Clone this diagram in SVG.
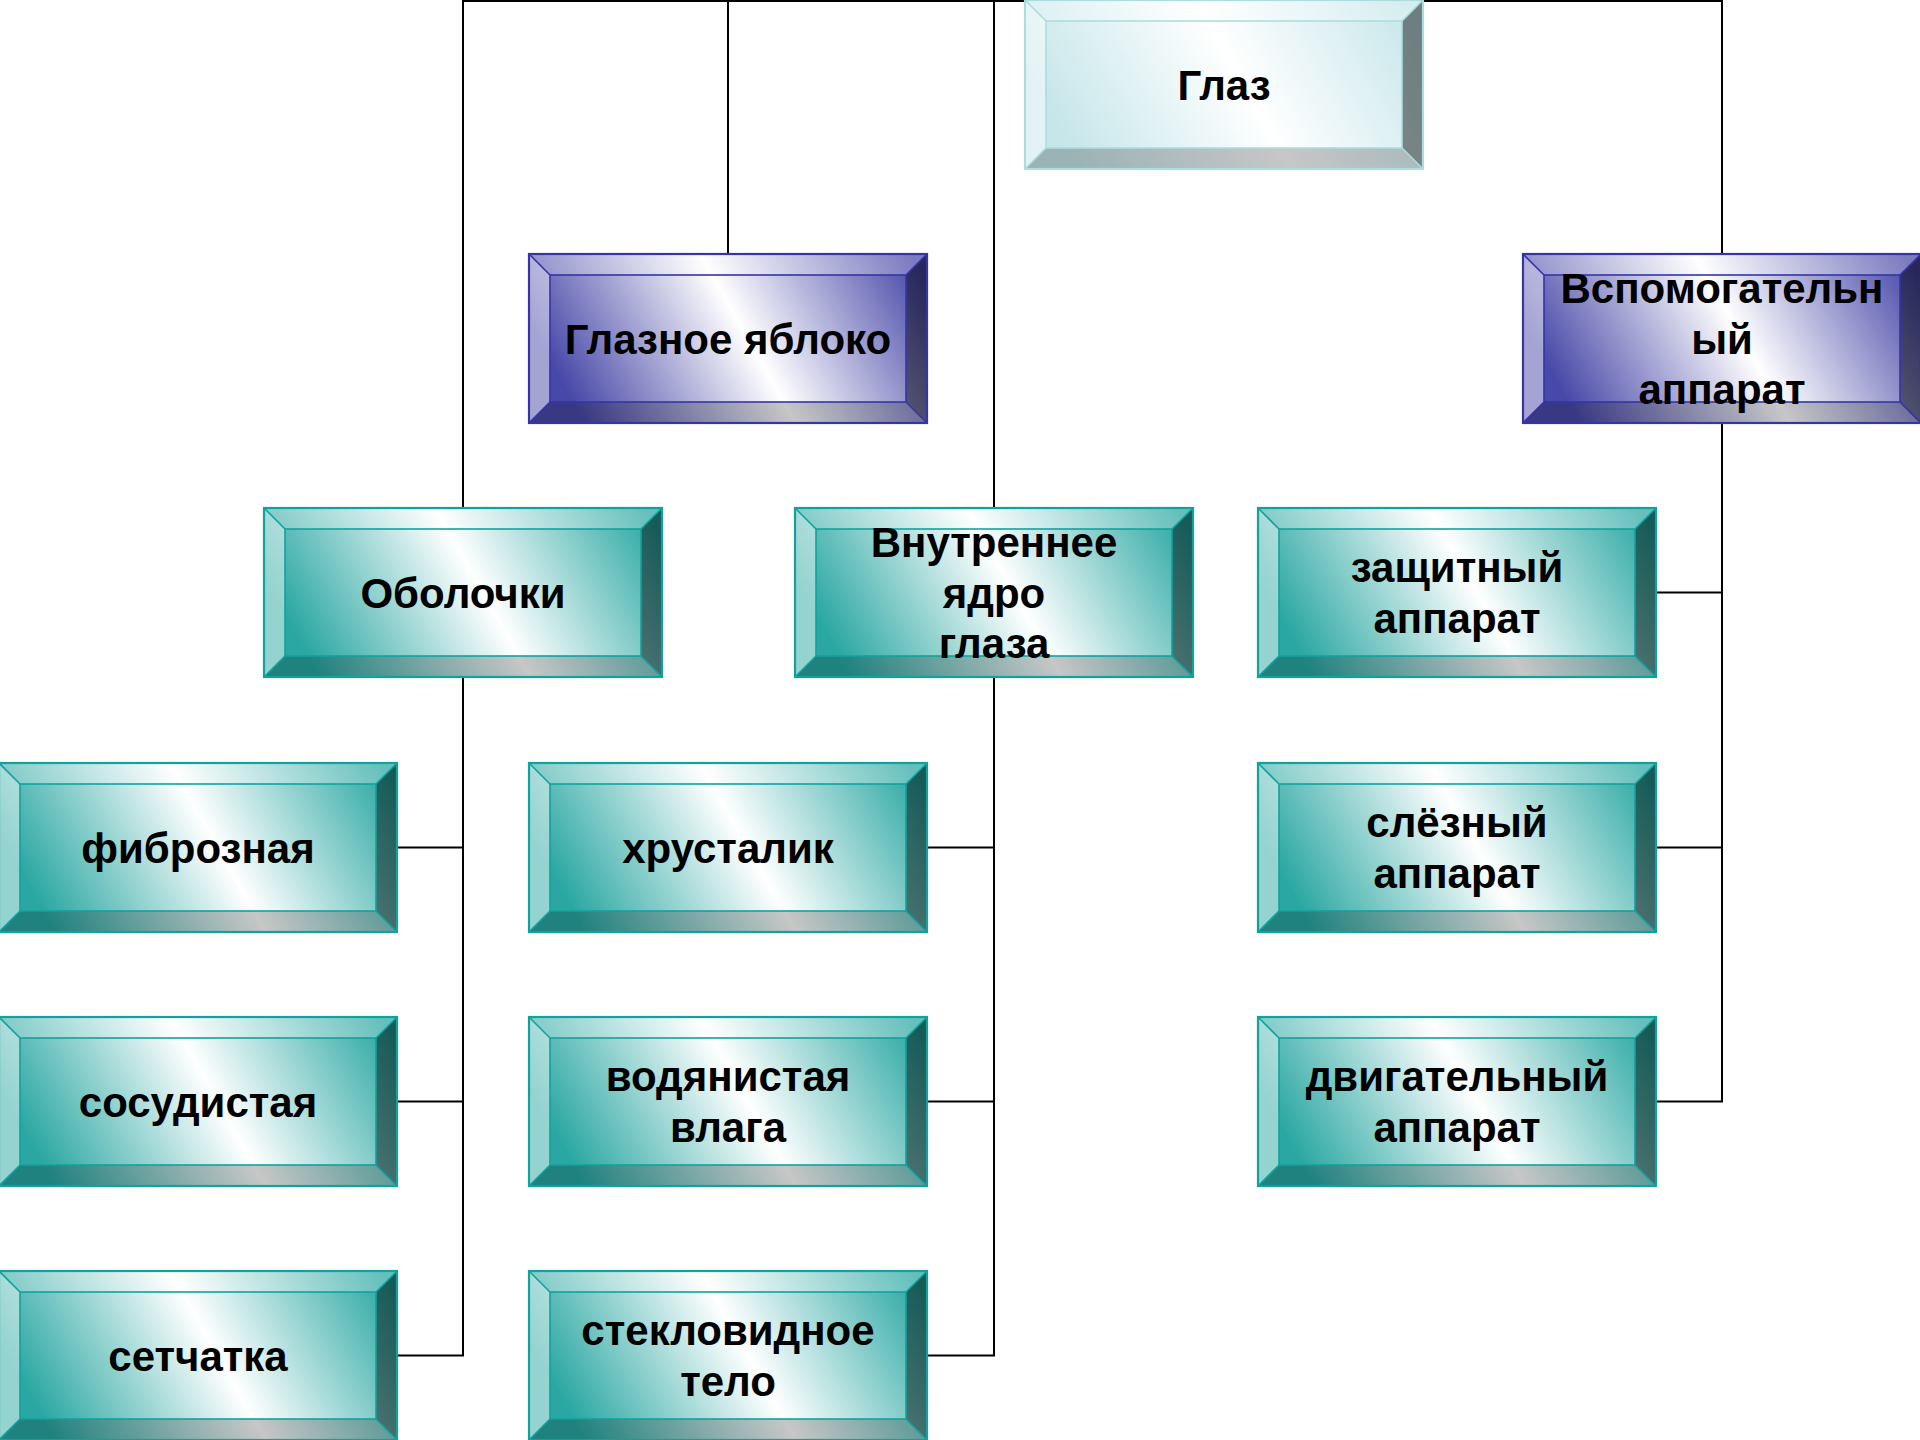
<svg xmlns="http://www.w3.org/2000/svg" xmlns:xlink="http://www.w3.org/1999/xlink" width="1920" height="1440" viewBox="0 0 1920 1440">
<style>
.t{font-family:"Liberation Sans",Arial,sans-serif;font-weight:bold;font-size:42px;fill:#000;text-anchor:middle}
.c{fill:none;stroke:#000;stroke-width:2}
.fT{fill:#fff;fill-opacity:0.28}
.fL{fill:#fff;fill-opacity:0.5}
.fR{fill:#000;fill-opacity:0.45}
.fB{fill:#000;fill-opacity:0.22}
</style>
<defs>
<linearGradient id="gTeal" x1="0.05" y1="0.62" x2="1.05" y2="0.38">
<stop offset="0" stop-color="#2AA7A2"/><stop offset="0.5" stop-color="#FFFFFF"/><stop offset="1" stop-color="#2AA7A2"/>
</linearGradient>
<linearGradient id="gPurp" x1="0.05" y1="0.62" x2="1.05" y2="0.38">
<stop offset="0" stop-color="#4848A8"/><stop offset="0.5" stop-color="#FFFFFF"/><stop offset="1" stop-color="#4848A8"/>
</linearGradient>
<linearGradient id="gLight" x1="0.05" y1="0.62" x2="1.05" y2="0.38">
<stop offset="0" stop-color="#C6E6EA"/><stop offset="0.5" stop-color="#FFFFFF"/><stop offset="1" stop-color="#C6E6EA"/>
</linearGradient>
<g id="facets">
<polygon class="fT" points="0,0 398,0 377,21 21,21"/>
<polygon class="fL" points="0,0 21,21 21,148 0,169"/>
<polygon class="fR" points="398,0 398,169 377,148 377,21"/>
<polygon class="fB" points="0,169 21,148 377,148 398,169"/>
</g>
<g id="lines">
<rect x="21" y="21" width="356" height="127" fill="none"/>
<path d="M0,0 L21,21 M398,0 L377,21 M0,169 L21,148 M398,169 L377,148" fill="none"/>
<rect x="0" y="0" width="398" height="169" fill="none" stroke-width="2.2"/>
</g>
<g id="boxT">
<rect x="0" y="0" width="398" height="169" fill="url(#gTeal)"/>
<use xlink:href="#facets"/>
<use xlink:href="#lines" stroke="#12A29D" stroke-width="1.6"/>
</g>
<g id="boxP">
<rect x="0" y="0" width="398" height="169" fill="url(#gPurp)"/>
<use xlink:href="#facets"/>
<use xlink:href="#lines" stroke="#3535A5" stroke-width="1.6"/>
</g>
<g id="boxL">
<rect x="0" y="0" width="398" height="169" fill="url(#gLight)"/>
<use xlink:href="#facets"/>
<use xlink:href="#lines" stroke="#ADDCDF" stroke-width="1.6"/>
</g>
</defs>

<g id="connectors">
<path class="c" d="M463,508 V1 H1722 V254"/>
<path class="c" d="M728,1 V254"/>
<path class="c" d="M994,1 V508"/>
<path class="c" d="M463,677 V1355.5 H397 M397,847.5 H463 M397,1101.5 H463"/>
<path class="c" d="M994,677 V1355.5 H927 M927,847.5 H994 M927,1101.5 H994"/>
<path class="c" d="M1722,423 V1101.5 H1655 M1655,592.5 H1722 M1655,847.5 H1722"/>
</g>

<g id="node-glaz">
<use xlink:href="#boxL" x="1025" y="0"/>
<text class="t" x="1224" y="99.5">Глаз</text>
</g>
<g id="node-glaznoe-yabloko">
<use xlink:href="#boxP" x="529" y="254"/>
<text class="t" x="728" y="353.5">Глазное яблоко</text>
</g>
<g id="node-vspomogatelny">
<use xlink:href="#boxP" x="1523" y="254"/>
<text class="t" x="1722" y="303">Вспомогательн</text>
<text class="t" x="1722" y="353.5">ый</text>
<text class="t" x="1722" y="404">аппарат</text>
</g>
<g id="node-obolochki">
<use xlink:href="#boxT" x="264" y="508"/>
<text class="t" x="463" y="607.5">Оболочки</text>
</g>
<g id="node-vnutrennee-yadro">
<use xlink:href="#boxT" x="795" y="508"/>
<text class="t" x="994" y="557">Внутреннее</text>
<text class="t" x="994" y="607.5">ядро</text>
<text class="t" x="994" y="658">глаза</text>
</g>
<g id="node-zashchitny">
<use xlink:href="#boxT" x="1258" y="508"/>
<text class="t" x="1457" y="582">защитный</text>
<text class="t" x="1457" y="633">аппарат</text>
</g>
<g id="node-fibroznaya">
<use xlink:href="#boxT" x="-1" y="763"/>
<text class="t" x="198" y="862.5">фиброзная</text>
</g>
<g id="node-hrustalik">
<use xlink:href="#boxT" x="529" y="763"/>
<text class="t" x="728" y="862.5">хрусталик</text>
</g>
<g id="node-slezny">
<use xlink:href="#boxT" x="1258" y="763"/>
<text class="t" x="1457" y="837">слёзный</text>
<text class="t" x="1457" y="888">аппарат</text>
</g>
<g id="node-sosudistaya">
<use xlink:href="#boxT" x="-1" y="1017"/>
<text class="t" x="198" y="1116.5">сосудистая</text>
</g>
<g id="node-vodyanistaya">
<use xlink:href="#boxT" x="529" y="1017"/>
<text class="t" x="728" y="1091">водянистая</text>
<text class="t" x="728" y="1142">влага</text>
</g>
<g id="node-dvigatelny">
<use xlink:href="#boxT" x="1258" y="1017"/>
<text class="t" x="1457" y="1091">двигательный</text>
<text class="t" x="1457" y="1142">аппарат</text>
</g>
<g id="node-setchatka">
<use xlink:href="#boxT" x="-1" y="1271"/>
<text class="t" x="198" y="1370.5">сетчатка</text>
</g>
<g id="node-steklovidnoe">
<use xlink:href="#boxT" x="529" y="1271"/>
<text class="t" x="728" y="1345">стекловидное</text>
<text class="t" x="728" y="1396">тело</text>
</g>
</svg>
